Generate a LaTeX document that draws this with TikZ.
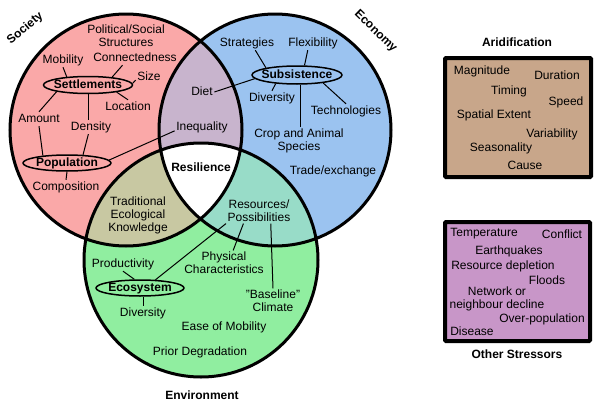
\documentclass[tikz,border=0pt]{standalone}
\usepackage{fontspec}
\setmainfont{Liberation Sans}
\usetikzlibrary{shapes.geometric}
\definecolor{socC}{RGB}{250,168,168}
\definecolor{ecoC}{RGB}{155,195,240}
\definecolor{envC}{RGB}{144,238,160}
\definecolor{seC}{RGB}{200,180,205}
\definecolor{snC}{RGB}{200,200,162}
\definecolor{enC}{RGB}{152,220,200}
\definecolor{aridC}{RGB}{200,166,138}
\definecolor{stressC}{RGB}{200,150,200}
\tikzset{
  lbl/.style={font=\fontsize{12}{13}\selectfont, inner sep=1.5pt, align=center},
  lbl1/.style={lbl, text height=9pt, text depth=2pt},
  hd/.style={lbl1, font=\fontsize{12}{13}\selectfont\bfseries},
  ellb/.style={ellipse, draw, line width=1.5pt, inner sep=0pt, minimum width=89pt, minimum height=17pt},
  conn/.style={line width=1pt},
  ring/.style={line width=3pt},
  sbox/.style={draw, line width=4pt, minimum width=146pt, minimum height=119pt, inner sep=0pt, rounded corners=1pt}
}
\begin{document}
\begin{tikzpicture}[x=1pt,y=-1pt]
\useasboundingbox (0,0) rectangle (598,407);
% circles
\coordinate (cS) at (126,130);
\coordinate (cE) at (275,130);
\coordinate (cN) at (201,260);
\fill[socC] (cS) circle (116pt);
\fill[ecoC] (cE) circle (116pt);
\fill[envC] (cN) circle (117pt);
\begin{scope}
  \clip (cS) circle (116pt);
  \fill[seC] (cE) circle (116pt);
  \fill[snC] (cN) circle (117pt);
\end{scope}
\begin{scope}
  \clip (cE) circle (116pt);
  \fill[enC] (cN) circle (117pt);
\end{scope}
\begin{scope}
  \clip (cS) circle (116pt);
  \clip (cE) circle (116pt);
  \fill[white] (cN) circle (117pt);
\end{scope}
\draw[ring] (cS) circle (116pt) (cE) circle (116pt) (cN) circle (117pt);

% circle titles
\node[hd, rotate=40] (tSoc) at (25,28) {Society};
\node[hd, rotate=-44] (tEco) at (376,31) {Economy};
\node[hd] (tEnv) at (202,396) {Environment};
\node[hd] (resil) at (201,168) {Resilience};

% Society
\node[lbl] (pol) at (126,36) {Political/Social\\Structures};
\node[lbl1] (mob) at (63,60) {Mobility};
\node[lbl1] (conn) at (135,58) {Connectedness};
\node[lbl1] (size) at (149,77) {Size};
\node[ellb] (set) at (88,85) {};
\node[hd] (setT) at (set) {Settlements};
\node[lbl1] (loc) at (128,107) {Location};
\node[lbl1] (amt) at (39,119) {Amount};
\node[lbl1] (dens) at (91,127) {Density};
\node[ellb, minimum width=88pt, minimum height=16pt] (pop) at (67,163) {};
\node[hd] (popT) at (pop) {Population};
\node[lbl1] (comp) at (66,187) {Composition};
\node[lbl1] (diet) at (202,92) {Diet};
\node[lbl1] (ineq) at (202,127) {Inequality};

% Economy
\node[lbl1] (strat) at (247,43) {Strategies};
\node[lbl1] (flex) at (313,43) {Flexibility};
\node[ellb, minimum width=90pt, minimum height=18pt] (sub) at (297,75) {};
\node[hd] (subT) at (sub) {Subsistence};
\node[lbl1] (divA) at (272,98) {Diversity};
\node[lbl1] (tech) at (346,111) {Technologies};
\node[lbl] (crop) at (299,141) {Crop and Animal\\Species};
\node[lbl1] (trade) at (333,171) {Trade/exchange};

% Environment
\node[lbl] (tek) at (138,215) {Traditional\\Ecological\\Knowledge};
\node[lbl] (res) at (259,211) {Resources/\\Possibilities};
\node[lbl] (phys) at (224,263) {Physical\\Characteristics};
\node[lbl1] (prod) at (123,264) {Productivity};
\node[ellb, minimum width=88pt, minimum height=16pt] (eco) at (140,288) {};
\node[hd] (ecoT) at (eco) {Ecosystem};
\node[lbl1] (divB) at (143,313) {Diversity};
\node[lbl] (base) at (273,301) {"Baseline"\\Climate};
\node[lbl1] (ease) at (224,327) {Ease of Mobility};
\node[lbl1] (prior) at (200,352) {Prior Degradation};

% connectors
\draw[conn] (mob.south) -- (set.159);
\draw[conn] (conn.210) -- (set.18);
\draw[conn] (size.193) -- (set.2);
\draw[conn] (loc.north) -- (set.-14);
\draw[conn] (set.192) -- (amt.north);
\draw[conn] (set.south) -- (set.south |- dens.north);
\draw[conn] (amt.south) -- (pop.163);
\draw[conn] (dens.250) -- (pop.27);
\draw[conn] (pop.4) -- (ineq.188);
\draw[conn] (pop.south) -- (comp.north);
\draw[conn] (diet.east) -- (sub.185);
\draw[conn] (strat.-41) -- (sub.167);
\draw[conn] (flex.234) -- (sub.52);
\draw[conn] (divA.north) -- (sub.202);
\draw[conn] (tech.north) -- (sub.-17);
\draw[conn] (sub.-70) -- (sub.-70 |- crop.north);
\draw[conn] (prod.south) -- (eco.123);
\draw[conn] (eco.28) -- (res.south west);
\draw[conn] (res.219) -- (phys.54);
\draw[conn] (res.-47) -- (base.north);
\draw[conn] (divB.north) -- (divB.north |- eco.south);

% Aridification box
\node[sbox, fill=aridC] (arid) at (518,117.5) {};
\node[hd] (aridT) at (517,43) {Aridification};
\node[lbl1] (a1) at (482,71) {Magnitude};
\node[lbl1] (a2) at (557,76) {Duration};
\node[lbl1] (a3) at (509,91) {Timing};
\node[lbl1] (a4) at (566,102) {Speed};
\node[lbl1] (a5) at (494,115) {Spatial Extent};
\node[lbl1] (a6) at (552,134) {Variability};
\node[lbl1] (a7) at (501,148) {Seasonality};
\node[lbl1] (a8) at (525,166) {Cause};

% Other stressors box
\node[sbox, fill=stressC, minimum width=145pt] (oth) at (517.5,281.5) {};
\node[hd] (othT) at (517,355) {Other Stressors};
\node[lbl1] (o1) at (484,233) {Temperature};
\node[lbl1] (o2) at (562,235) {Conflict};
\node[lbl1] (o3) at (509,251) {Earthquakes};
\node[lbl1] (o4) at (503,266) {Resource depletion};
\node[lbl1] (o5) at (547,281) {Floods};
\node[lbl] (o6) at (497,299) {Network or\\neighbour decline};
\node[lbl1] (o7) at (542,319) {Over-population};
\node[lbl1] (o8) at (472,332) {Disease};
\end{tikzpicture}
\end{document}
